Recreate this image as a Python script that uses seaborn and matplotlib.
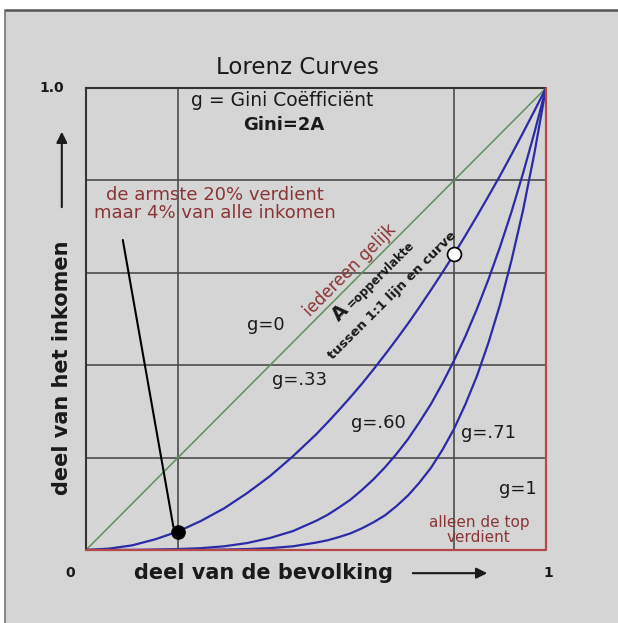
import seaborn as sns
import matplotlib.pyplot as plt
import matplotlib.patches as patches
import pandas as pd

# deel van de bevolking (x) en deel van het inkomen (y)
bevolking = [0, .05, .1, .15, .2, .25, .3, .35, .4, .45, .5, .525, .55, .575, .6, .625,
             .65, .675, .7, .725, .75, .775, .8, .825, .85, .875, .9, .925, .95, .975, 1]
g033 = [0, .003, .01, .023, .04, .063, .09, .123, .16, .203, .25, .276, .303, .331, .36, .391,
        .423, .456, .49, .526, .563, .601, .64, .681, .723, .766, .81, .856, .903, .951, 1]
g060 = [0, 0, 0, .001, .002, .004, .008, .015, .026, .041, .063, .076, .092, .109, .13, .153,
        .179, .208, .24, .277, .316, .361, .41, .463, .522, .586, .656, .732, .815, .904, 1]
g071 = [0, 0, 0, 0, 0, 0, .001, .002, .004, .008, .016, .021, .028, .036, .047, .06,
        .075, .095, .118, .146, .178, .217, .262, .316, .377, .449, .531, .627, .735, .86, 1]
gelijk_x = [0, 1]
gelijk_y = [0, 1]
g1_x = [0, 1, 1]
g1_y = [0, 0, 1]
punt_x = [0.2, 0.8]
punt_y = [0.04, 0.64]

df = pd.DataFrame({'x': bevolking, 'g033': g033, 'g060': g060, 'g071': g071})

sns.set_style('white')
fig = plt.figure(figsize=(6.18, 6.23), dpi=100, facecolor='white')
fig.patches.append(patches.Rectangle((5/618, 0), 1, 1 - 10/623, transform=fig.transFigure,
                                     facecolor='#d5d5d5', edgecolor='none', zorder=-10))
fig.lines.append(plt.Line2D([5/618, 1], [1 - 10/623, 1 - 10/623], transform=fig.transFigure,
                            color='#555555', lw=1.8))
fig.lines.append(plt.Line2D([5/618, 5/618], [0, 1 - 10/623], transform=fig.transFigure,
                            color='#777777', lw=1.2))
ax = fig.add_axes([86/618, 73/623, 460/618, 462/623])
ax.set_facecolor('#d5d5d5')

# raster
ax.set_xticks([0.2, 0.8])
ax.set_yticks([0.2, 0.4, 0.6, 0.8])
ax.grid(True, color='#4d4d4d', lw=1.2)
ax.tick_params(length=0, labelbottom=False, labelleft=False)
ax.set_xlim(0, 1)
ax.set_ylim(0, 1)
for s in ['left', 'top']:
    ax.spines[s].set_color('#333333')
    ax.spines[s].set_linewidth(1.5)
for s in ['bottom', 'right']:
    ax.spines[s].set_visible(False)

blauw = '#2b2ba8'
sns.lineplot(x=gelijk_x, y=gelijk_y, ax=ax, color='#5e8f5e', lw=1.1)
sns.lineplot(data=df, x='x', y='g033', ax=ax, color=blauw, lw=1.6)
sns.lineplot(data=df, x='x', y='g060', ax=ax, color=blauw, lw=1.6)
sns.lineplot(data=df, x='x', y='g071', ax=ax, color=blauw, lw=1.6)
ax.plot(g1_x, g1_y, color='#b54848', lw=1.6, clip_on=False, zorder=5)
ax.set_xlabel('')
ax.set_ylabel('')

sns.scatterplot(x=punt_x[:1], y=punt_y[:1], ax=ax, color='black', s=95, zorder=6, edgecolor='black')
sns.scatterplot(x=punt_x[1:], y=punt_y[1:], ax=ax, color='white', s=100, zorder=6,
                edgecolor='black', linewidth=1.2)

rood = '#8a3535'
ax.text(0.426, 0.974, 'g = Gini Coëfficiënt', ha='center', va='center', fontsize=13.5, color='#1a1a1a')
ax.text(0.430, 0.920, 'Gini=2A', ha='center', va='center', fontsize=13, fontweight='bold', color='#1a1a1a')
ax.text(0.280, 0.749, 'de armste 20% verdient\nmaar 4% van alle inkomen', ha='center', va='center',
        fontsize=13, color=rood, linespacing=1.0)
ax.annotate('', xy=(0.19, 0.05), xytext=(0.080, 0.671),
            arrowprops=dict(arrowstyle='-', color='black', lw=1.5, shrinkA=0, shrinkB=0))
ax.text(0.574, 0.606, 'iedereen gelijk', rotation=45, rotation_mode='anchor', ha='center', va='center',
        fontsize=12, color=rood)
ax.text(0.554, 0.513, 'A', rotation=45, rotation_mode='anchor', ha='center', va='center',
        fontsize=14, fontweight='bold', color='#1a1a1a')
ax.text(0.640, 0.596, '=oppervlakte', rotation=45, rotation_mode='anchor', ha='center', va='center',
        fontsize=8.5, fontweight='bold', color='#1a1a1a')
ax.text(0.665, 0.550, 'tussen 1:1 lijn en curve', rotation=45, rotation_mode='anchor', ha='center',
        va='center', fontsize=9.5, fontweight='bold', color='#1a1a1a')

for lab, x, y in [('g=0', 0.391, 0.487), ('g=.33', 0.465, 0.368), ('g=.60', 0.635, 0.275),
                  ('g=.71', 0.876, 0.253), ('g=1', 0.939, 0.132)]:
    ax.text(x, y, lab, ha='center', va='center', fontsize=13, color='#1a1a1a')
ax.text(0.854, 0.043, 'alleen de top\nverdient', ha='center', va='center', fontsize=11,
        color=rood, linespacing=1.0)

# titels en assen
fig.text(0.481, 0.891, 'Lorenz Curves', ha='center', va='center', fontsize=16.5, color='#1a1a1a')
fig.text(0.084, 0.859, '1.0', ha='center', va='center', fontsize=10, fontweight='bold', color='#1a1a1a')
fig.text(0.113, 0.080, '0', ha='center', va='center', fontsize=10, fontweight='bold', color='#1a1a1a')
fig.text(0.887, 0.080, '1', ha='center', va='center', fontsize=10, fontweight='bold', color='#1a1a1a')
fig.text(0.427, 0.080, 'deel van de bevolking', ha='center', va='center', fontsize=15,
         fontweight='bold', color='#1a1a1a')
fig.text(0.100, 0.409, 'deel van het inkomen', ha='center', va='center', rotation=90, fontsize=15,
         fontweight='bold', color='#1a1a1a')
fig.patches.append(patches.FancyArrowPatch((410/618, 0.080), (490/618, 0.080), transform=fig.transFigure,
                                           arrowstyle='-|>', mutation_scale=16, color='#1a1a1a', lw=1.5))
fig.patches.append(patches.FancyArrowPatch((0.100, 0.663), (0.100, 0.793), transform=fig.transFigure,
                                           arrowstyle='-|>', mutation_scale=16, color='#1a1a1a', lw=1.5))

fig.savefig('out.png', dpi=100)
